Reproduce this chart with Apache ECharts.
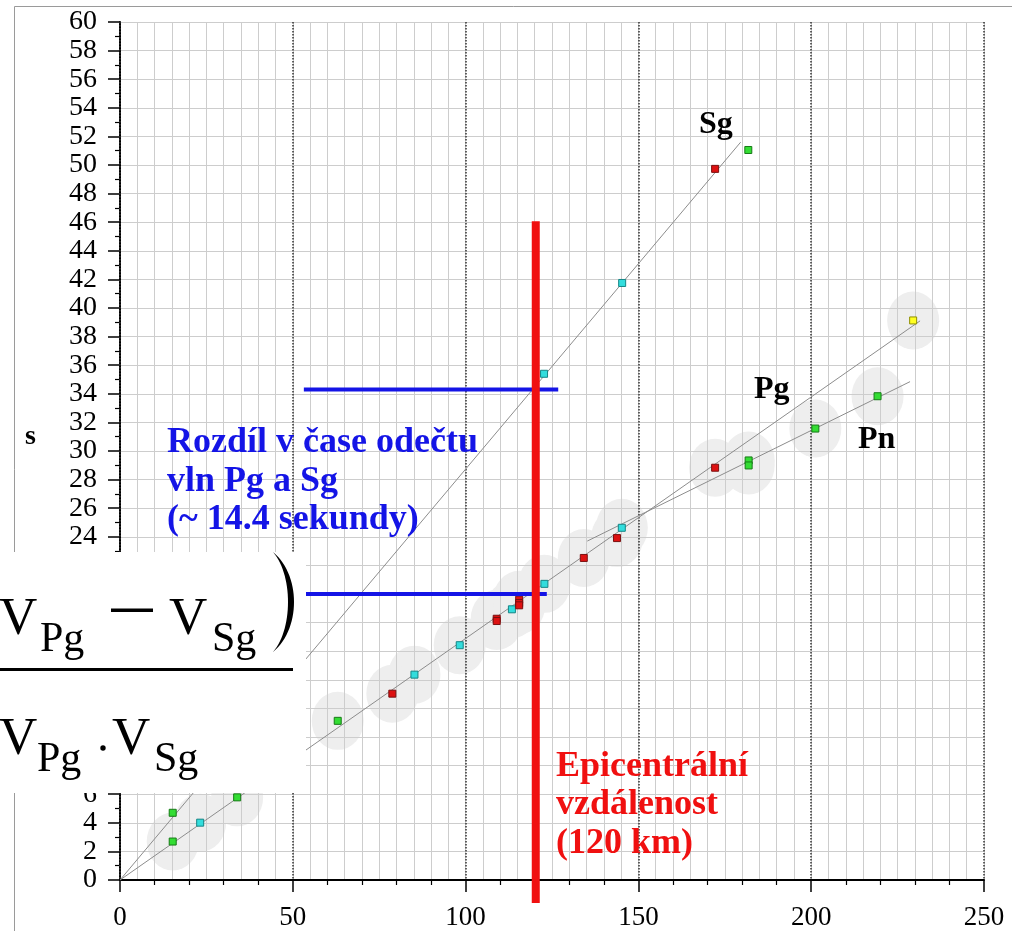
<!DOCTYPE html>
<html><head><meta charset="utf-8">
<style>html,body{margin:0;padding:0;background:#fff}#c{width:1012px;height:931px}</style>
<script src="https://cdn.jsdelivr.net/npm/echarts@6/dist/echarts.min.js"></script>
</head><body><div id="c"></div>
<script>
// ---- axis ranges ----
const xMin = 0, xMax = 250, xStep = 50, xMinorGridStep = 5;
const yMin = 0, yMax = 60, yStep = 2;

// ---- observed arrivals [distance km, time s] ----
const sgGreen = [[15.25, 4.70], [181.8, 51.05]];
const sgCyan = [[122.7, 35.40], [145.3, 41.75]];
const sgRed = [[172.2, 49.73]];

const pgGreen = [[15.25, 2.69], [33.9, 5.78], [63.0, 11.13]];
const pgCyan = [[23.2, 4.01], [85.2, 14.36], [98.3, 16.42], [113.4, 18.93], [122.8, 20.71], [145.2, 24.63]];
const pgRed = [[78.8, 13.03], [109.0, 18.27], [109.0, 18.11], [115.5, 19.60], [115.5, 19.37], [115.5, 19.21], [134.2, 22.52], [143.8, 23.91], [172.2, 28.83]];
const pgYellow = [[229.5, 39.13]];
const pnGreen = [[181.9, 29.34], [181.9, 28.99], [201.2, 31.57], [219.2, 33.83]];

// ---- travel-time lines ----
const sgLine = [[0, 0], [179.6, 51.6]];
const pgLine = [[0, 0], [231.5, 39.1]];
const pnLine = [[135.2, 23.7], [228.6, 34.85]];

// ---- annotations ----
const epicentreLine = [[120.3, -1.6], [120.3, 46.07]];
const sgReadLine = [[53.2, 34.3], [126.8, 34.3]];
const pgReadLine = [[53.2, 20.0], [123.5, 20.0]];
const waveNames = ['Sg', 'Pg', 'Pn'];
const yAxisName = 's';
const blueNote = ['Rozdíl v čase odečtu', 'vln Pg a Sg', '(~ 14.4 sekundy)'];
const redNote = ['Epicentrální', 'vzdálenost', '(120 km)'];

const SERIF = 'Liberation Serif';
const BLUE = '#1414e6', RED = '#f01010';
const ZL = 1; // foreground layer (blobs sit on layer 0 under the grid)

const pPoints = [].concat(pgGreen, pgCyan, pgRed, pgYellow, pnGreen);

function txt(text, x, base, size, color, weight, z) {
  return {
    type: 'text', x: x, y: base - 0.23 * size, z: z || 60, zlevel: ZL, silent: true,
    style: {
      text: text, fill: color, fontSize: size, fontFamily: SERIF, fontWeight: weight || 'normal',
      align: 'left', verticalAlign: 'middle', textAlign: 'left', textVerticalAlign: 'middle'
    }
  };
}

function pts(data, fill, border) {
  return {
    type: 'scatter', data: data, symbol: 'rect', symbolSize: 7, z: 5, zlevel: ZL, silent: true,
    itemStyle: { color: fill, borderColor: border, borderWidth: 1, opacity: 1 }
  };
}
function seg(data, color, width, z) {
  return {
    type: 'line', data: data, symbol: 'none', silent: true, clip: false, z: z, zlevel: ZL,
    lineStyle: { color: color, width: width, cap: 'butt' }
  };
}

function bez(p0, p1, p2, p3, n) {
  const out = [];
  for (let i = 0; i <= n; i++) {
    const t = i / n, u = 1 - t;
    out.push([
      u*u*u*p0[0] + 3*u*u*t*p1[0] + 3*u*t*t*p2[0] + t*t*t*p3[0],
      u*u*u*p0[1] + 3*u*u*t*p1[1] + 3*u*t*t*p2[1] + t*t*t*p3[1]
    ]);
  }
  return out;
}
const parenPts = bez([273, 552], [301, 575], [301, 629], [273, 652], 30)
  .concat(bez([273, 652], [293, 629], [293, 575], [273, 552], 30));

function gshape(type, shape, style, z) {
  return { type: type, z: z, zlevel: ZL, silent: true, shape: shape, style: style };
}

const graphics = [
  gshape('rect', { x: 14.5, y: 6.5, width: 1200, height: 1200 }, { fill: 'none', stroke: '#9a9a9a', lineWidth: 1 }, 1),
  txt(waveNames[0], 699, 132, 32, '#000', 'bold'),
  txt(waveNames[1], 754, 397, 32, '#000', 'bold'),
  txt(waveNames[2], 858, 447, 32, '#000', 'bold'),
  txt(yAxisName, 25, 443, 28, '#000', 'bold'),
  txt(blueNote[0], 167, 451, 36, BLUE, 'bold'),
  txt(blueNote[1], 167, 490, 36, BLUE, 'bold'),
  txt(blueNote[2], 167, 528, 36, BLUE, 'bold'),
  txt(redNote[0], 556, 775, 36, RED, 'bold'),
  txt(redNote[1], 556, 813, 36, RED, 'bold'),
  txt(redNote[2], 556, 852, 36, RED, 'bold'),
  // formula inset
  gshape('rect', { x: 0, y: 552, width: 306, height: 241 }, { fill: '#fff' }, 90),
  txt('V', -1, 632, 53, '#000', 'normal', 100),
  txt('Pg', 40, 650, 42, '#000', 'normal', 100),
  gshape('rect', { x: 111, y: 608.5, width: 42, height: 3.5 }, { fill: '#000' }, 100),
  txt('V', 169, 632, 53, '#000', 'normal', 100),
  txt('Sg', 212, 650, 42, '#000', 'normal', 100),
  gshape('polygon', { points: parenPts }, { fill: '#000' }, 100),
  gshape('rect', { x: 0, y: 668, width: 293, height: 3 }, { fill: '#000' }, 100),
  txt('V', -1, 752, 53, '#000', 'normal', 100),
  txt('Pg', 37, 770, 42, '#000', 'normal', 100),
  gshape('circle', { cx: 103, cy: 748, r: 2.7 }, { fill: '#000' }, 100),
  txt('V', 112, 752, 53, '#000', 'normal', 100),
  txt('Sg', 154, 770, 42, '#000', 'normal', 100)
];

function richLabel(size, margin) {
  return {
    show: true, margin: margin, hideOverlap: false,
    formatter: function (v) { return '{t|' + v + '}'; },
    rich: { t: { color: '#000', fontSize: size, fontFamily: SERIF, fontWeight: 'normal' } }
  };
}

const chart = echarts.init(document.getElementById('c'), null, { renderer: 'canvas' });
chart.setOption({
  animation: false,
  backgroundColor: '#fff',
  textStyle: { fontFamily: SERIF },
  grid: { left: 120, right: 28, top: 22, bottom: 47, containLabel: false },
  xAxis: [
    {
      type: 'value', min: xMin, max: xMax, interval: xStep, position: 'bottom', z: 2, zlevel: ZL,
      axisLine: { show: true, onZero: false, lineStyle: { color: '#000', width: 2 } },
      axisTick: { show: true, length: 12, lineStyle: { color: '#000', width: 1.5 } },
      minorTick: { show: true, splitNumber: 5, length: 5, lineStyle: { color: '#000', width: 1.2 } },
      axisLabel: richLabel(27, 24),
      splitLine: { show: true, lineStyle: { color: '#333', type: 'dotted', width: 1.5 } }
    },
    {
      type: 'value', min: xMin, max: xMax, interval: xMinorGridStep, position: 'top', z: 1, zlevel: ZL,
      axisLine: { show: false }, axisTick: { show: false }, axisLabel: { show: false },
      splitLine: { show: true, lineStyle: { color: '#cdcdcd', width: 1 } }
    }
  ],
  yAxis: {
    type: 'value', min: yMin, max: yMax, interval: yStep, z: 1.5, zlevel: ZL,
    axisLine: { show: true, onZero: false, lineStyle: { color: '#000', width: 2 } },
    axisTick: { show: true, length: 12, lineStyle: { color: '#000', width: 1.5 } },
    minorTick: { show: true, splitNumber: 2, length: 5, lineStyle: { color: '#000', width: 1.2 } },
    axisLabel: richLabel(28, 23),
    splitLine: { show: true, lineStyle: { color: '#cdcdcd', width: 1 } }
  },
  series: [
    { type: 'scatter', data: pPoints, symbol: 'circle', symbolSize: [52, 58], z: 0, zlevel: 0, silent: true,
      itemStyle: { color: '#eeeeee', opacity: 1 } },
    seg(sgLine, '#8c8c8c', 1, 3),
    seg(pgLine, '#8c8c8c', 1, 3),
    seg(pnLine, '#8c8c8c', 1, 3),
    seg(sgReadLine, BLUE, 4, 6),
    seg(pgReadLine, BLUE, 4, 6),
    pts(sgGreen, '#33dd33', '#167a16'),
    pts(sgCyan, '#33dddd', '#158585'),
    pts(sgRed, '#dd1111', '#7a1010'),
    pts(pgGreen, '#33dd33', '#167a16'),
    pts(pgCyan, '#33dddd', '#158585'),
    pts(pgRed, '#dd1111', '#7a1010'),
    pts(pgYellow, '#ffff22', '#8f8f00'),
    pts(pnGreen, '#33dd33', '#167a16'),
    seg(epicentreLine, RED, 8, 7)
  ],
  graphic: graphics
});
</script>
</body></html>
